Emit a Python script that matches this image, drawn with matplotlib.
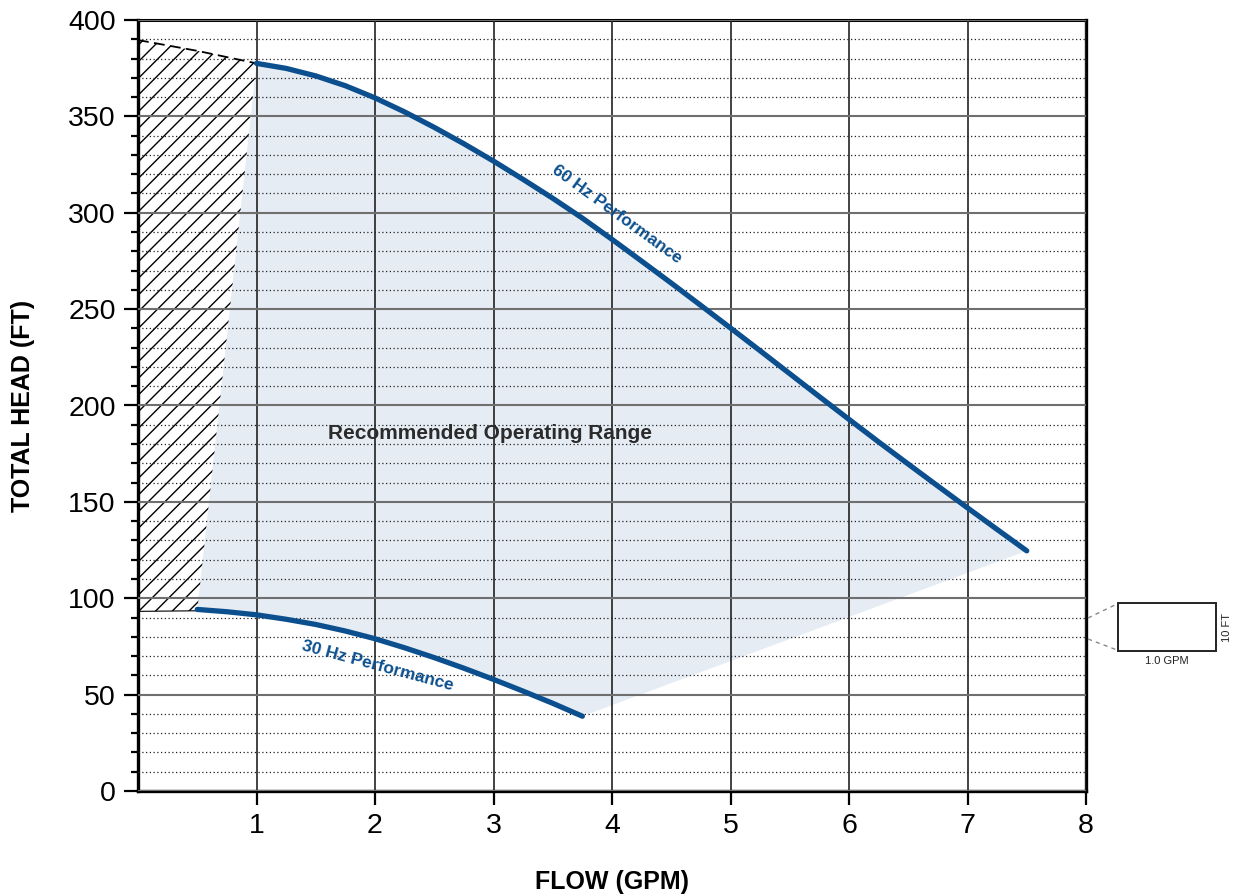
import numpy as np
import matplotlib
matplotlib.use("Agg")
import matplotlib.pyplot as plt
from matplotlib.patches import Polygon, Rectangle
from matplotlib.lines import Line2D
from matplotlib.ticker import MultipleLocator

plt.rcParams['font.family'] = ['Liberation Sans', 'DejaVu Sans']
plt.rcParams['hatch.linewidth'] = 1.0

# pump curves (quarter-GPM steps)
flow_60 = [1.0, 1.25, 1.5, 1.75, 2.0, 2.25, 2.5, 2.75, 3.0, 3.25, 3.5, 3.75, 4.0,
           4.25, 4.5, 4.75, 5.0, 5.25, 5.5, 5.75, 6.0, 6.25, 6.5, 6.75, 7.0, 7.25, 7.5]
head_60 = [377.5, 374.9, 371.0, 365.9, 359.6, 352.3, 344.3, 335.8, 326.8, 317.3, 307.5,
           297.2, 286.2, 274.9, 263.5, 251.9, 240.2, 228.4, 216.5, 204.6, 192.8,
           181.1, 169.6, 158.2, 146.9, 135.7, 124.6]

flow_30 = [0.5, 0.75, 1.0, 1.25, 1.5, 1.75, 2.0, 2.25, 2.5, 2.75, 3.0, 3.25, 3.5, 3.75]
head_30 = [94.2, 93.0, 91.4, 89.1, 86.4, 83.0, 79.0, 74.3, 69.2, 63.7, 57.9, 51.8, 45.5, 38.8]

# hatched (not recommended) zone at low flow
hatch_top_flow = [0.0, 0.5, 1.0]
hatch_top_head = [389.6, 384.0, 377.5]
hatch_bot_flow = [0.5, 0.0]
hatch_bot_head = [93.5, 93.2]

x_ticks = [1, 2, 3, 4, 5, 6, 7, 8]
y_ticks = [0, 50, 100, 150, 200, 250, 300, 350, 400]

BLUE = '#0b4f8e'
FILL = '#e5ecf3'

fig = plt.figure(figsize=(12.35, 8.96), dpi=100)
ax = fig.add_axes([138/1235, 1 - 791/896, 948/1235, 771/896])

# operating range polygon
rng_x = flow_60 + flow_30[::-1]
rng_y = head_60 + head_30[::-1]
ax.add_patch(Polygon(np.column_stack([rng_x, rng_y]), closed=True,
                     facecolor=FILL, edgecolor='none', zorder=1))

# hatched zone
hx = hatch_top_flow + hatch_bot_flow
hy = hatch_top_head + hatch_bot_head
ax.add_patch(Polygon(np.column_stack([hx, hy]), closed=True, facecolor='none',
                     edgecolor='black', linewidth=0, hatch='//', zorder=1.2))
ax.plot(hatch_top_flow, hatch_top_head, color='black', lw=1.3,
        dashes=(6, 3), zorder=3)
ax.plot(hatch_bot_flow, hatch_bot_head, color='black', lw=0.8, zorder=3)

# curves
ax.plot(flow_60, head_60, color=BLUE, lw=3.8, solid_capstyle='round',
        solid_joinstyle='round', zorder=4)
ax.plot(flow_30, head_30, color=BLUE, lw=3.8, solid_capstyle='round',
        solid_joinstyle='round', zorder=4)

ax.text(4.04, 299, '60 Hz Performance', color=BLUE, fontsize=12.5, fontweight='bold',
        rotation=-36, ha='center', va='center', rotation_mode='anchor', zorder=5)
ax.text(2.02, 65, '30 Hz Performance', color=BLUE, fontsize=12.5, fontweight='bold',
        rotation=-15, ha='center', va='center', rotation_mode='anchor', zorder=5)
ax.text(2.97, 185.7, 'Recommended Operating Range', color='#2b2b2b', fontsize=15,
        fontweight='bold', ha='center', va='center', zorder=5)

ax.set_xlim(0, 8)
ax.set_ylim(0, 400)
ax.set_xticks(x_ticks)
ax.set_yticks(y_ticks)
ax.yaxis.set_minor_locator(MultipleLocator(10))
ax.tick_params(axis='both', which='major', labelsize=20.5, length=10, width=1.6,
               direction='out', pad=6)
ax.tick_params(axis='y', which='minor', length=5, width=1.6, direction='out')

ax.set_axisbelow(False)
ax.grid(which='major', axis='x', color='#222222', lw=1.2, ls='-')
ax.grid(which='major', axis='y', color='#6f6f6f', lw=1.5, ls='-')
ax.grid(which='minor', axis='y', color='#222222', lw=0.9, ls=(0, (1, 2)))

for side in ['left', 'bottom', 'right']:
    ax.spines[side].set_linewidth(2.4)
ax.spines['top'].set_linewidth(2.2)

ax.set_xlabel('FLOW (GPM)', fontsize=18, fontweight='bold')
ax.set_ylabel('TOTAL HEAD (FT)', fontsize=18, fontweight='bold')
ax.xaxis.set_label_coords(0.5, (791 - 870) / 771)
ax.yaxis.set_label_coords((35 - 138) / 948, 0.5)

# scale key on the right
def fx(px):
    return px / 1235

def fy(py):
    return 1 - py / 896

fig.add_artist(Rectangle((fx(1118), fy(651)), fx(1216) - fx(1118), fy(603) - fy(651),
                         transform=fig.transFigure, facecolor='white',
                         edgecolor='#222222', lw=1.4))
fig.add_artist(Line2D([fx(1088), fx(1117)], [fy(618), fy(604)], transform=fig.transFigure,
                      color='#888888', lw=1.0, dashes=(3, 3)))
fig.add_artist(Line2D([fx(1088), fx(1117)], [fy(639), fy(650)], transform=fig.transFigure,
                      color='#888888', lw=1.0, dashes=(3, 3)))
fig.text(fx(1167), fy(661), '1.0 GPM', fontsize=8, ha='center', va='center', color='#222222')
fig.text(fx(1227), fy(627), '10 FT', fontsize=8, ha='center', va='center',
         rotation=90, color='#222222')

fig.savefig('out.png', dpi=100)
